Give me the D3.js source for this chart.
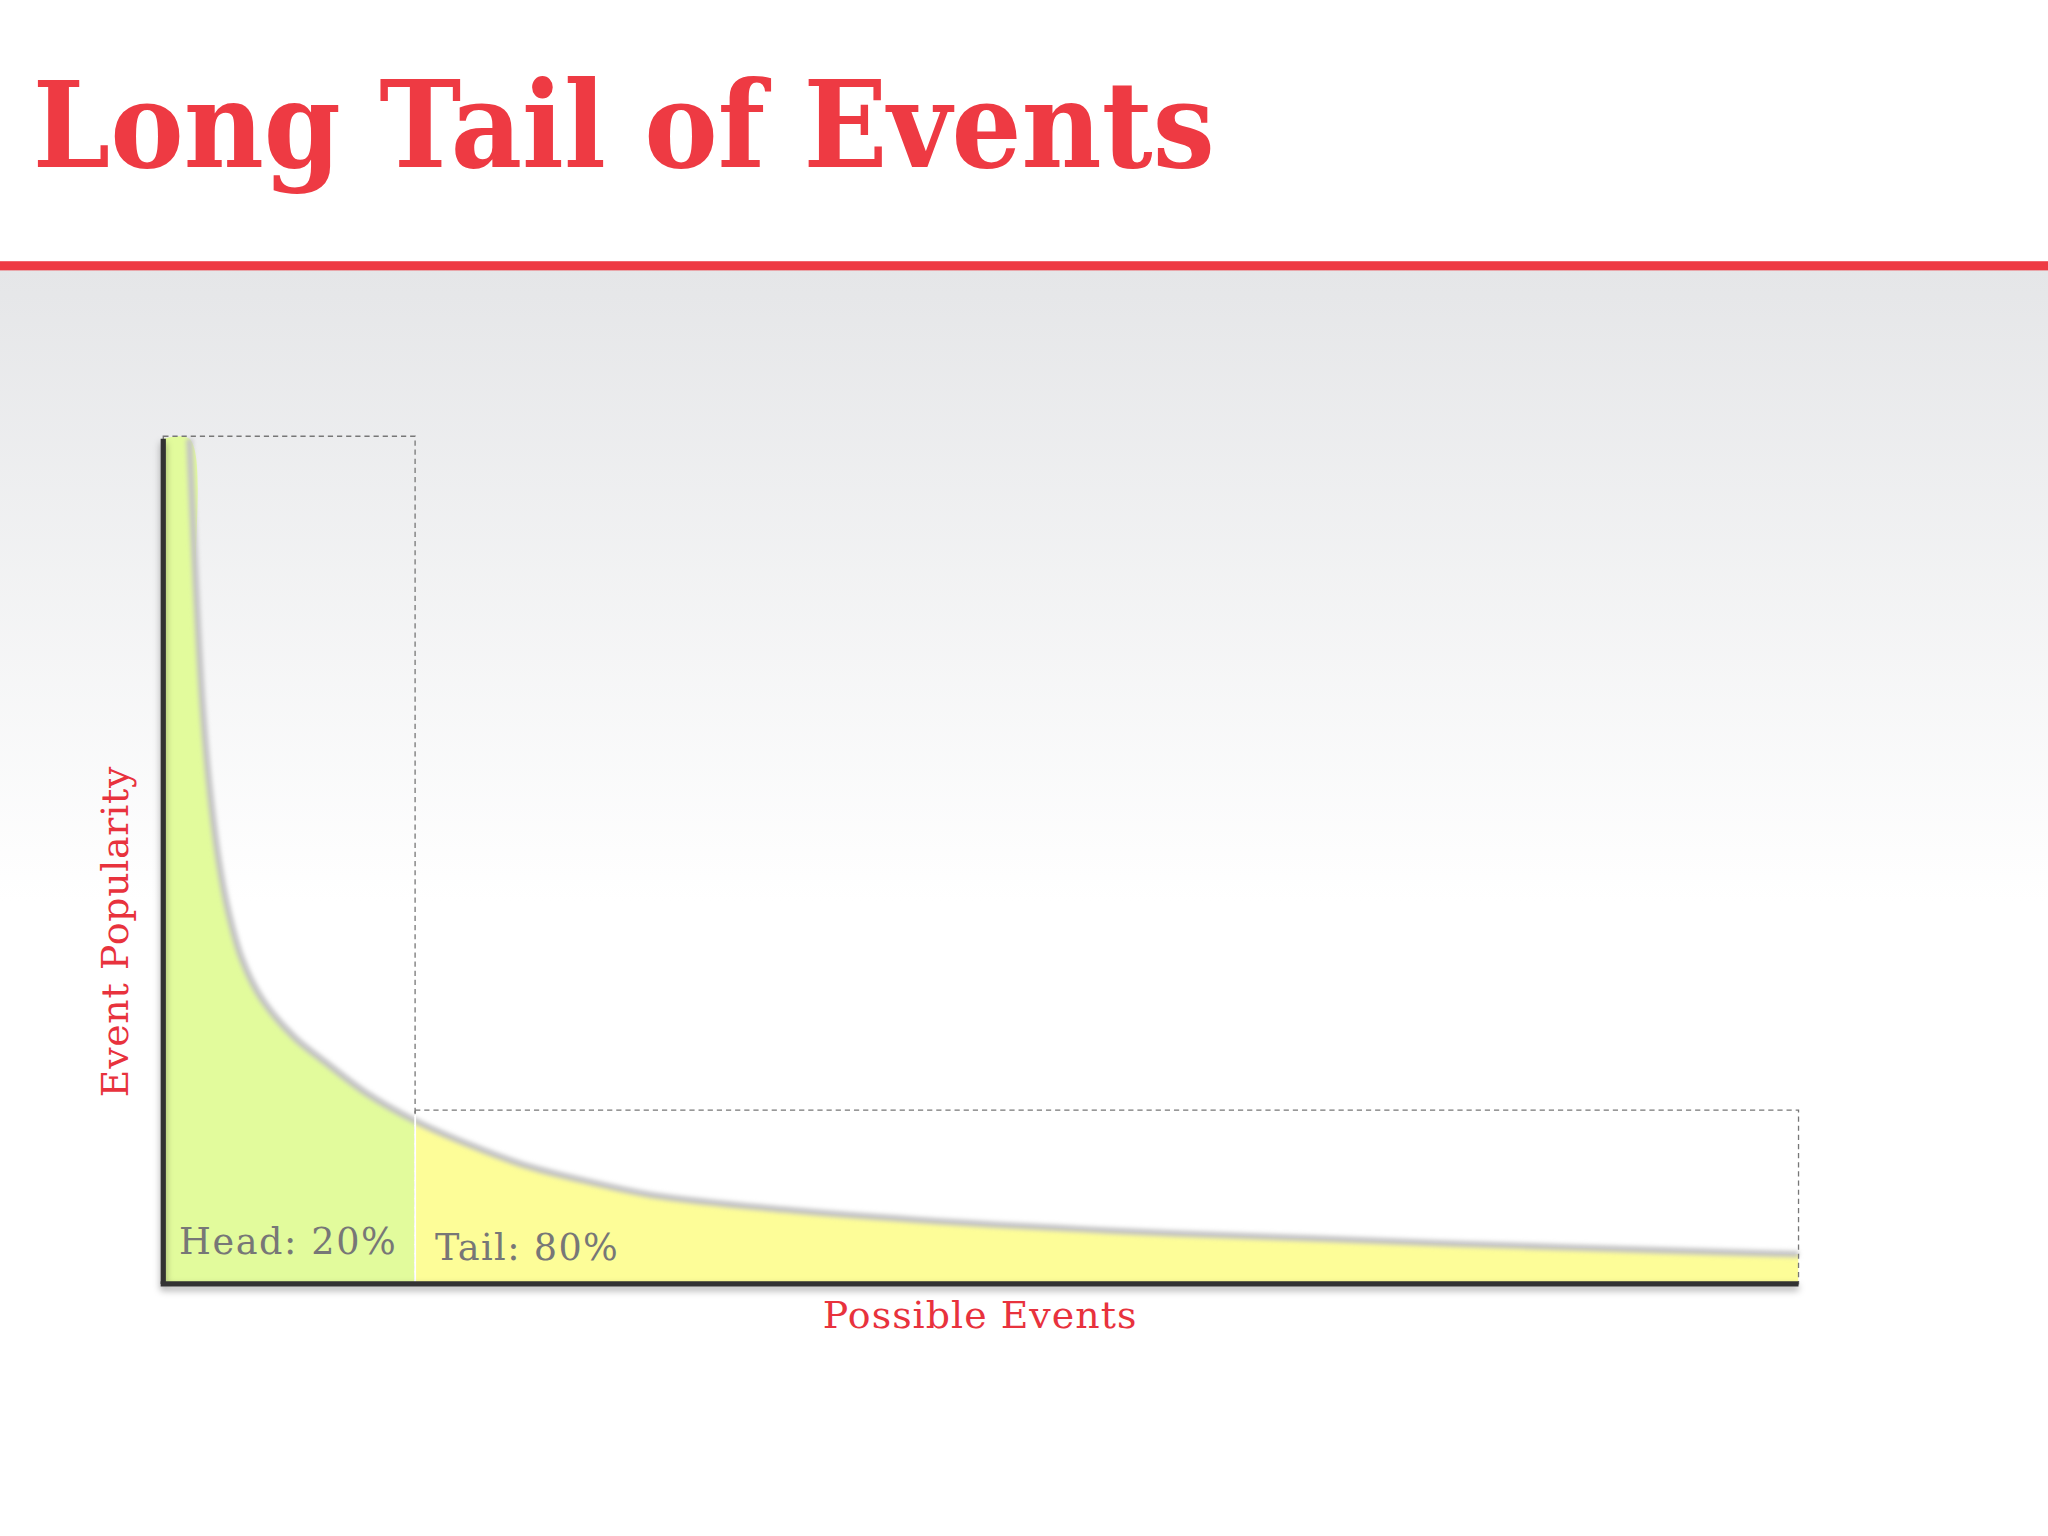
<!DOCTYPE html>
<html><head><meta charset="utf-8">
<script src="https://cdn.jsdelivr.net/npm/d3@7"></script>
<style>body{margin:0;background:#fff}svg{display:block}</style>
</head><body>
<script>
const xVals=[0,1.6,2.0,2.4,2.8,3.4,4.0,4.8,6.0,8.0,10.0,12.4,15.4,18.8,22.0,26.0,29.9,37.9,45.9,57.9,69.9,85.9,100];
const yVals=[100,100,82.4,68.5,59.3,50.0,43.9,38.5,33.8,29.2,26.1,22.6,19.3,16.4,14.1,12.1,10.5,8.8,7.6,6.3,5.4,4.3,3.5];
const headEnd=15.4;
const labels={title:"Long Tail of Events",y:"Event Popularity",x:"Possible Events",head:"Head: 20%",tail:"Tail: 80%"};

const svg=d3.select("body").append("svg").attr("width",2048).attr("height",1536).attr("viewBox","0 0 1568 1176");
const defs=svg.append("defs");
const g=defs.append("linearGradient").attr("id","bg").attr("x1",0).attr("x2",0).attr("y1",0).attr("y2",1);
g.append("stop").attr("offset","0").attr("stop-color","#e5e6e8");
g.append("stop").attr("offset","0.5").attr("stop-color","#ffffff");
defs.append("filter").attr("id","blur").append("feGaussianBlur").attr("stdDeviation",1.5);
const sh=defs.append("filter").attr("id","sh").attr("x","-10%").attr("y","-10%").attr("width","120%").attr("height","120%");
sh.append("feDropShadow").attr("dx",0).attr("dy",3).attr("stdDeviation",3).attr("flood-color","#000").attr("flood-opacity",0.35);

svg.append("rect").attr("x",0).attr("y",206).attr("width",1568).attr("height",970).attr("fill","url(#bg)");
svg.append("rect").attr("x",0).attr("y",200).attr("width",1568).attr("height",7).attr("fill","#ee3a43");
svg.append("text").text(labels.title).attr("x",25).attr("y",128).attr("font-family","DejaVu Serif").attr("font-weight","bold")
 .attr("font-size",92).attr("fill","#ee3a43").attr("textLength",905).attr("lengthAdjust","spacingAndGlyphs");

const x=d3.scaleLinear().domain([0,100]).range([125,1377]);
const y=d3.scaleLinear().domain([0,100]).range([983,336]);
const data=xVals.map((v,i)=>[v,yVals[i]]);
const cv=d3.curveCatmullRom.alpha(0.5);
const area=d3.area().x(d=>x(d[0])).y0(y(0)).y1(d=>y(d[1])).curve(cv);
const line=d3.line().x(d=>x(d[0])).y(d=>y(d[1])).curve(cv);

defs.append("clipPath").attr("id","ch").append("rect").attr("x",x(0)).attr("y",0).attr("width",x(headEnd)-x(0)).attr("height",1176);
defs.append("clipPath").attr("id","ct").append("rect").attr("x",x(headEnd)).attr("y",0).attr("width",x(100)-x(headEnd)).attr("height",1176);
svg.append("path").datum(data).attr("d",area).attr("fill","#e2fb9c").attr("clip-path","url(#ch)");
svg.append("path").datum(data).attr("d",area).attr("fill","#fdfd98").attr("clip-path","url(#ct)");
svg.append("path").datum(data.slice(1)).attr("d",line).attr("fill","none").attr("stroke","#c4c4c4").attr("stroke-width",5).attr("filter","url(#blur)");

svg.append("rect").attr("x",x(0)).attr("y",y(100)-2).attr("width",x(headEnd)-x(0)).attr("height",y(0)-y(100)+2)
 .attr("fill","none").attr("stroke","#777").attr("stroke-dasharray","4,3").attr("stroke-width",1);
svg.append("rect").attr("x",x(headEnd)).attr("y",850).attr("width",x(100)-x(headEnd)).attr("height",y(0)-850)
 .attr("fill","none").attr("stroke","#777").attr("stroke-dasharray","4,3").attr("stroke-width",1);
svg.append("line").attr("x1",x(headEnd)).attr("x2",x(headEnd)).attr("y1",y(0)-130).attr("y2",y(0)+12).attr("stroke","#fff").attr("stroke-width",1.5);

const ax=svg.append("g").attr("filter","url(#sh)");
ax.append("line").attr("x1",x(0)).attr("x2",x(0)).attr("y1",y(100)).attr("y2",y(0)).attr("stroke","#333").attr("stroke-width",4);
ax.append("line").attr("x1",x(0)-2).attr("x2",x(100)).attr("y1",y(0)).attr("y2",y(0)).attr("stroke","#333").attr("stroke-width",4);

const ser="DejaVu Serif";
svg.append("text").text(labels.head).attr("x",137).attr("y",960).attr("font-family",ser).attr("font-size",28).attr("fill","#777").attr("textLength",166);
svg.append("text").text(labels.tail).attr("x",333).attr("y",965).attr("font-family",ser).attr("font-size",28).attr("fill","#777").attr("textLength",140);
svg.append("text").text(labels.x).attr("x",630).attr("y",1017).attr("font-family",ser).attr("font-size",29).attr("fill","#e8323d").attr("textLength",240);
svg.append("text").text(labels.y).attr("transform","translate(98,840) rotate(-90)").attr("font-family",ser).attr("font-size",29).attr("fill","#e8323d").attr("textLength",253);
</script>
</body></html>
